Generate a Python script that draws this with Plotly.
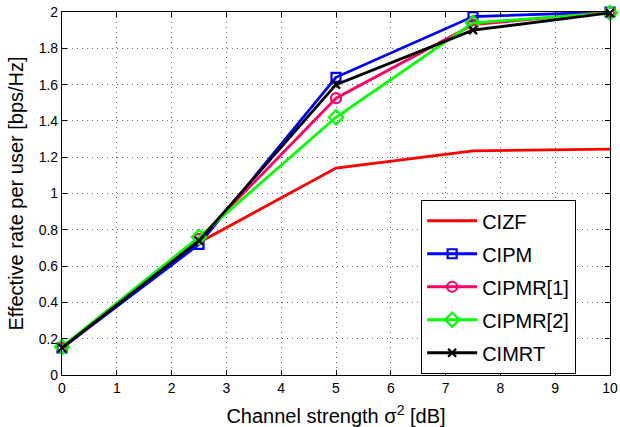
import plotly.graph_objects as go

x_db = [0, 2.5, 5, 7.5, 10]
cizf = [0.15, 0.73, 1.14, 1.235, 1.245]
cipm = [0.15, 0.72, 1.64, 1.975, 2.0]
cipmr1 = [0.15, 0.75, 1.525, 1.93, 2.0]
cipmr2 = [0.155, 0.76, 1.42, 1.94, 1.995]
cimrt = [0.15, 0.74, 1.60, 1.90, 1.995]

x_ticks = list(range(0, 11))
y_ticks = [0, 0.2, 0.4, 0.6, 0.8, 1, 1.2, 1.4, 1.6, 1.8, 2]

names = ["CIZF", "CIPM", "CIPMR[1]", "CIPMR[2]", "CIMRT"]
series = [cizf, cipm, cipmr1, cipmr2, cimrt]
colors = ["#ff0000", "#0000ff", "#ff0066", "#00ff00", "#000000"]
symbols = [None, "square-open", "circle-open", "diamond-open", "x-thin-open"]
sizes = [8, 9, 10, 11, 8]

fig = go.Figure()
for i, (n, y, c, s, ms) in enumerate(zip(names, series, colors, symbols, sizes)):
    mode = "lines" if s is None else "lines+markers"
    fig.add_trace(go.Scatter(
        x=x_db, y=y, name=n, mode=mode,
        line=dict(color=c, width=2.8),
        marker=dict(symbol=s or "circle", size=ms, color=c,
                    line=dict(color=c, width=2.2)),
        cliponaxis=False, legendgroup=f"g{i}",
    ))

axis_common = dict(
    ticks="inside", ticklen=5, tickcolor="black",
    showline=True, linecolor="black", linewidth=1.2, mirror="allticks",
    showgrid=True, gridcolor="#666666", griddash="1px,4px", gridwidth=1,
    zeroline=False, tickfont=dict(size=14), automargin=False,
)

fig.update_layout(
    width=620, height=427,
    margin=dict(l=62, r=10, t=12, b=52),
    paper_bgcolor="white", plot_bgcolor="white",
    font=dict(family="Liberation Sans, Arial, sans-serif", color="black", size=14),
    xaxis=dict(range=[0, 10], tickvals=x_ticks, **axis_common,
               title=dict(text="Channel strength σ<sup>2</sup> [dB]", font=dict(size=20), standoff=14)),
    yaxis=dict(range=[0, 2], tickvals=y_ticks, **axis_common,
               title=dict(text="Effective rate per user [bps/Hz]", font=dict(size=20), standoff=9)),
    legend=dict(x=0.655, y=0.482, xanchor="left", yanchor="top",
                bgcolor="white", bordercolor="black", borderwidth=1.2,
                font=dict(size=20), tracegroupgap=4, itemwidth=50),
    showlegend=True,
)

fig.write_html("out.html")
